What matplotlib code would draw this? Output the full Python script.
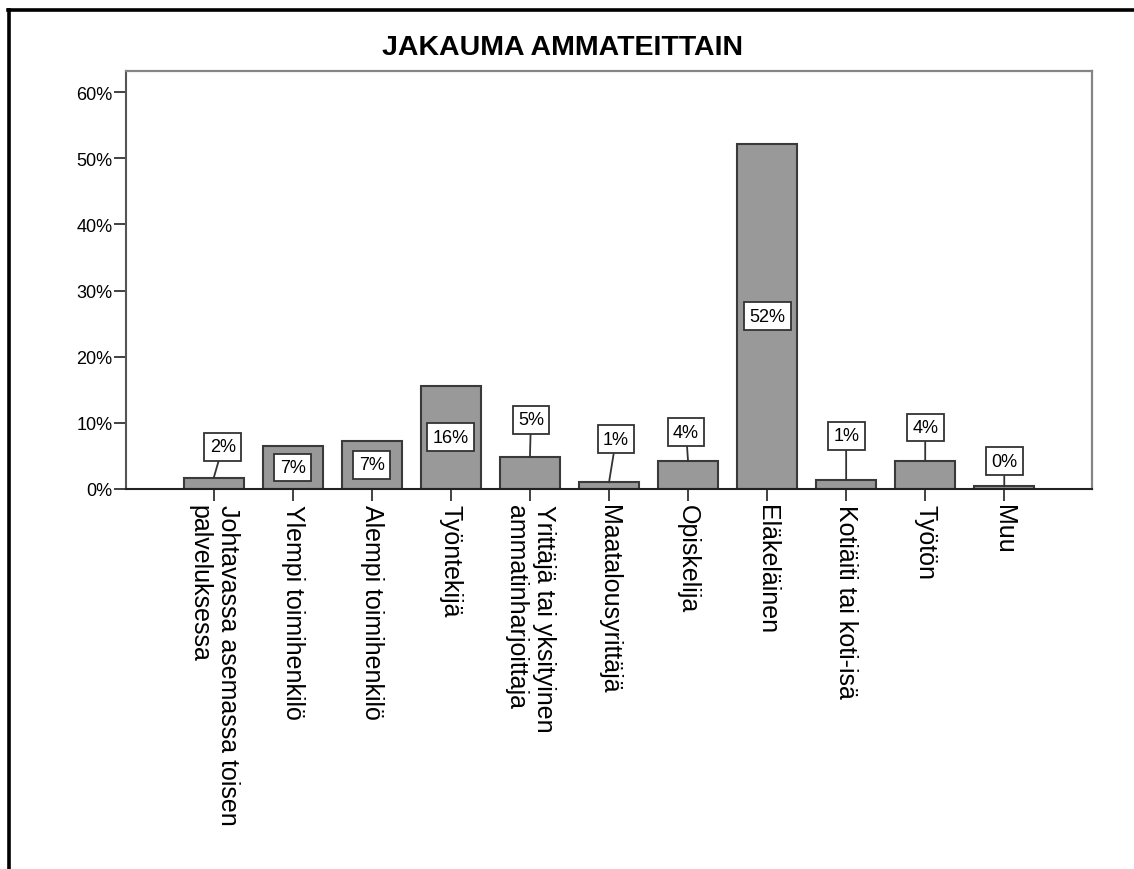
import matplotlib
matplotlib.use("Agg")
import matplotlib.pyplot as plt
from matplotlib.lines import Line2D
from matplotlib.ticker import FuncFormatter

plt.rcParams['font.family'] = ['Liberation Sans', 'DejaVu Sans']

# data
categories = [
    "Johtavassa asemassa toisen\npalveluksessa",
    "Ylempi toimihenkilö",
    "Alempi toimihenkilö",
    "Työntekijä",
    "Yrittäjä tai yksityinen\nammatinharjoittaja",
    "Maatalousyrittäjä",
    "Opiskelija",
    "Eläkeläinen",
    "Kotiäiti tai koti-isä",
    "Työtön",
    "Muu",
]
percents = [1.7, 6.5, 7.3, 15.6, 4.9, 1.0, 4.2, 52.2, 1.4, 4.3, 0.4]
pct_labels = ["2%", "7%", "7%", "16%", "5%", "1%", "4%", "52%", "1%", "4%", "0%"]
yticks = [0, 10, 20, 30, 40, 50, 60]

# label box offsets (pixels) for the small bars, box sits above the bar
outside_offsets = {
    0: (9, 31),
    4: (1, 37),
    5: (7, 43),
    6: (-2, 29),
    8: (0, 44),
    9: (0, 33),
    10: (0, 25),
}

fig = plt.figure(figsize=(11.34, 8.7), dpi=100)
ax = fig.add_axes([126 / 1134, 1 - 490 / 870, (1092 - 126) / 1134, (490 - 72) / 870])

x = list(range(len(categories)))
ax.bar(x, percents, width=0.76, color='#999999', edgecolor='#3a3a3a', linewidth=1.5, zorder=2)

box = dict(boxstyle='square,pad=0.3', facecolor='white', edgecolor='#333333', linewidth=1.3)
for i, (v, lab) in enumerate(zip(percents, pct_labels)):
    if i in outside_offsets:
        dx, dy = outside_offsets[i]
        ax.annotate(lab, xy=(i, v), xytext=(dx, dy), textcoords='offset pixels',
                    ha='center', va='center', fontsize=13, bbox=box, zorder=4,
                    arrowprops=dict(arrowstyle='-', color='#333333', lw=1.3,
                                    shrinkA=0, shrinkB=0))
    else:
        ax.text(i, v / 2, lab, ha='center', va='center', fontsize=13, bbox=box, zorder=4)

ax.set_xlim(-1.11, len(categories) - 1 + 1.11)
ax.set_ylim(0, 63.2)
ax.set_yticks(yticks)
ax.yaxis.set_major_formatter(FuncFormatter(lambda v, p: "%d%%" % v))
ax.set_xticks(x)
ax.set_xticklabels(categories, rotation=270, ha='center', va='top',
                   multialignment='left', fontsize=18)
ax.tick_params(axis='y', length=8.6, width=1.3, pad=1, labelsize=13, color='#333333')
ax.tick_params(axis='x', length=8.6, width=1.3, pad=2, color='#333333')

for side in ['top', 'right']:
    ax.spines[side].set_color('#858585')
    ax.spines[side].set_linewidth(1.6)
ax.spines['left'].set_color('#555555')
ax.spines['left'].set_linewidth(1.5)
ax.spines['bottom'].set_color('#222222')
ax.spines['bottom'].set_linewidth(1.5)

fig.text(563 / 1134, 1 - 48 / 870, "JAKAUMA AMMATEITTAIN", ha='center', va='center',
         fontsize=20.5, fontweight='bold')

# outer frame (left and top only, as cropped)
fig.add_artist(Line2D([9 / 1134, 9 / 1134], [0, 1 - 10.7 / 870], transform=fig.transFigure,
                      color='black', linewidth=2.6))
fig.add_artist(Line2D([7.5 / 1134, 1], [1 - 10.7 / 870, 1 - 10.7 / 870], transform=fig.transFigure,
                      color='black', linewidth=2.6))

fig.savefig("out.png", dpi=100)
